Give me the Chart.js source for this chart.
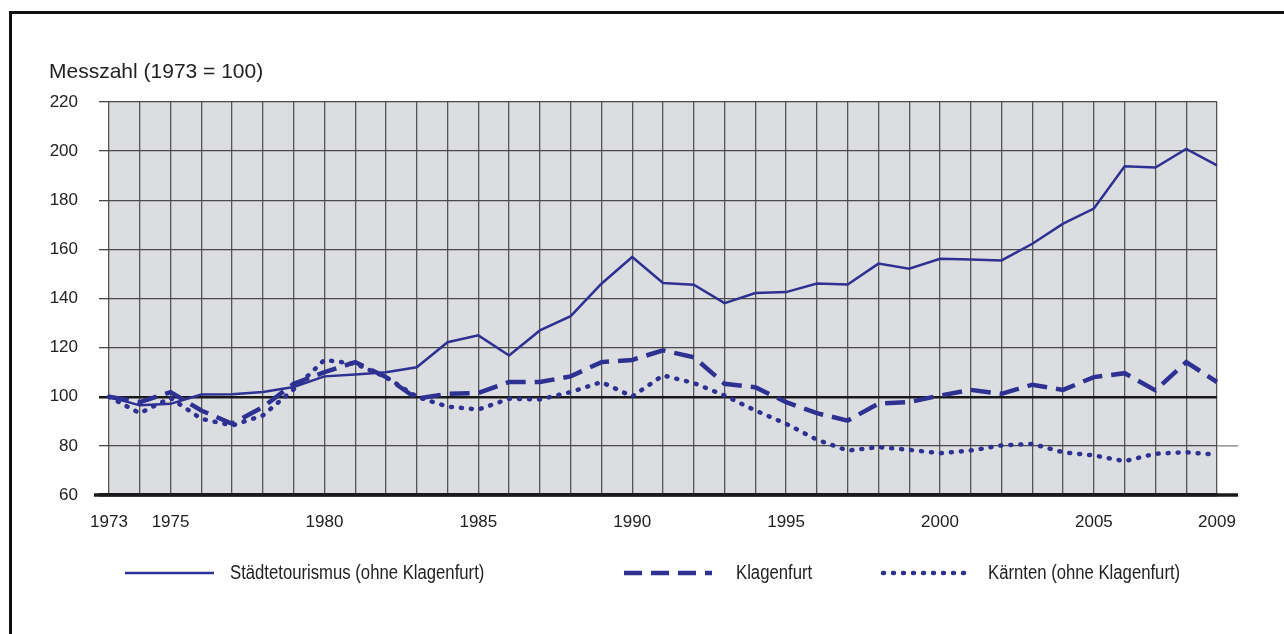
<!DOCTYPE html>
<html lang="de">
<head>
  <meta charset="UTF-8" />
  <title>Messzahl Städtetourismus</title>
  <script src="https://cdn.jsdelivr.net/npm/chart.js"></script>
  <style>
    body { margin: 0; background: #fff; width: 1284px; height: 634px; overflow: hidden; position: relative; font-family: "Liberation Sans", Arial, sans-serif; }
    #frame { position: absolute; left: 9px; top: 11px; width: 1400px; height: 800px; border: 3px solid #111; }
    #chart { position: absolute; left: 0; top: 0; }
    #title { position: absolute; left: 49px; top: 59px; font-size: 21px; color: #222; white-space: nowrap; }
    /* the source uses a condensed face; squeeze the regular one to match */
    .leg { position: absolute; top: 560px; font-size: 20px; color: #222; white-space: nowrap; line-height: 24px; transform: scaleX(0.835); transform-origin: left center; }
    .sample { position: absolute; top: 562px; }
  </style>
</head>
<body>
  <div id="frame"></div>
  <canvas id="chart" width="1284" height="634"></canvas>
  <div id="title">Messzahl (1973 = 100)</div>

  <!-- legend -->
  <svg class="sample" style="left:120px" width="100" height="22"><line x1="5" y1="11" x2="94" y2="11" stroke="#2e3192" stroke-width="2.5"/></svg>
  <div class="leg" style="left:230px">Städtetourismus (ohne Klagenfurt)</div>
  <svg class="sample" style="left:620px" width="100" height="22"><line x1="4" y1="11" x2="92" y2="11" stroke="#2e3192" stroke-width="4.5" stroke-dasharray="18 9"/></svg>
  <div class="leg" style="left:736px">Klagenfurt</div>
  <svg class="sample" style="left:876px" width="100" height="22"><line x1="7" y1="11" x2="95" y2="11" stroke="#2e3192" stroke-width="4.5" stroke-dasharray="1 9" stroke-linecap="round"/></svg>
  <div class="leg" style="left:988px">Kärnten (ohne Klagenfurt)</div>

<script>
  const years = [1973, 1974, 1975, 1976, 1977, 1978, 1979, 1980, 1981, 1982, 1983, 1984, 1985,
                 1986, 1987, 1988, 1989, 1990, 1991, 1992, 1993, 1994, 1995, 1996, 1997,
                 1998, 1999, 2000, 2001, 2002, 2003, 2004, 2005, 2006, 2007, 2008, 2009];
  const shownYears = [1973, 1975, 1980, 1985, 1990, 1995, 2000, 2005, 2009];
  const yTicks = [60, 80, 100, 120, 140, 160, 180, 200, 220];

  const staedte = [100, 96.5, 97.1, 100.9, 101, 101.9, 104, 108.3, 109.1, 110, 112, 122.2, 125,
                   116.8, 127, 132.8, 146, 156.9, 146.3, 145.6, 138.1, 142.2, 142.6, 146.1, 145.7,
                   154.2, 152.1, 156.2, 155.9, 155.5, 162.3, 170.5, 176.6, 193.8, 193.3, 200.9, 194.2];
  const klagenfurt = [100, 97.8, 101.9, 94.4, 89, 95.8, 105.3, 110, 114.1, 108, 99.2, 101.2, 101.5,
                      106, 106, 108.3, 114.1, 115, 118.9, 116.1, 105.3, 103.9, 97.8, 93.3, 90.3,
                      97.2, 97.8, 100.5, 102.8, 101.2, 104.9, 102.8, 108, 109.6, 102.6, 114.1, 106];
  const kaernten = [100, 93.3, 99.5, 91, 88.3, 92.4, 103, 115, 113.4, 108, 100, 96, 94.8,
                    99.2, 98.9, 101.9, 106, 100.1, 108.7, 105.6, 100.5, 94.4, 89, 82.5, 78.1,
                    79.5, 78.4, 77, 78.1, 80.2, 80.8, 77.4, 76.1, 73.8, 76.8, 77.4, 76.4];

  const blue = "#2e3192";
  const tickFont = { family: "'Liberation Sans', Arial, sans-serif", size: 17 };

  // grey plot background + the axis/80-line stubs that run past the right edge
  const plotExtras = {
    id: "plotExtras",
    beforeDraw(chart) {
      const { ctx, chartArea: a } = chart;
      ctx.save();
      ctx.fillStyle = "#dcdde0";
      ctx.fillRect(a.left, a.top, a.right - a.left, a.bottom - a.top);
      ctx.restore();
    },
    beforeDatasetsDraw(chart) {
      const { ctx, chartArea: a, scales } = chart;
      const y80 = scales.y.getPixelForValue(80);
      const y60 = scales.y.getPixelForValue(60);
      ctx.save();
      ctx.strokeStyle = "#777";
      ctx.lineWidth = 1.2;
      ctx.beginPath();
      ctx.moveTo(a.right, y80);
      ctx.lineTo(a.right + 21, y80);
      ctx.stroke();
      ctx.strokeStyle = "#1a1a1a";
      ctx.lineWidth = 3.5;
      ctx.beginPath();
      ctx.moveTo(a.left - 15, y60);
      ctx.lineTo(a.right + 21, y60);
      ctx.stroke();
      ctx.restore();
    }
  };

  new Chart(document.getElementById("chart"), {
    type: "line",
    data: {
      labels: years,
      datasets: [
        { label: "Städtetourismus (ohne Klagenfurt)", data: staedte, borderColor: blue, borderWidth: 2.5, pointRadius: 0, tension: 0 },
        { label: "Klagenfurt", data: klagenfurt, borderColor: blue, borderWidth: 4.5, borderDash: [20, 9], pointRadius: 0, tension: 0 },
        { label: "Kärnten (ohne Klagenfurt)", data: kaernten, borderColor: blue, borderWidth: 4.5, borderDash: [1, 9], borderCapStyle: "round", pointRadius: 0, tension: 0 }
      ]
    },
    options: {
      responsive: false,
      animation: false,
      devicePixelRatio: 1,
      layout: { padding: { top: 102, right: 67, bottom: 0, left: 0 } },
      plugins: { legend: { display: false }, tooltip: { enabled: false } },
      scales: {
        x: {
          afterFit: s => { s.height = 139; },
          border: { display: false },
          grid: { color: "#555", lineWidth: 1.3, drawTicks: false },
          ticks: {
            autoSkip: false, maxRotation: 0, padding: 17, color: "#222", font: tickFont,
            callback: (v, i) => shownYears.includes(years[i]) ? String(years[i]) : ""
          }
        },
        y: {
          min: 60, max: 220,
          afterFit: s => { s.width = 109; },
          afterBuildTicks: s => { s.ticks = yTicks.map(v => ({ value: v })); },
          border: { display: false },
          grid: {
            tickLength: 10,
            color: c => (c.tick && (c.tick.value === 100 || c.tick.value === 60)) ? "#1a1a1a" : "#4a4a4a",
            lineWidth: c => !c.tick ? 1.3 : c.tick.value === 60 ? 3.5 : c.tick.value === 100 ? 2.5 : 1.3
          },
          ticks: { padding: 21, color: "#222", font: tickFont }
        }
      }
    },
    plugins: [plotExtras]
  });
</script>
</body>
</html>
